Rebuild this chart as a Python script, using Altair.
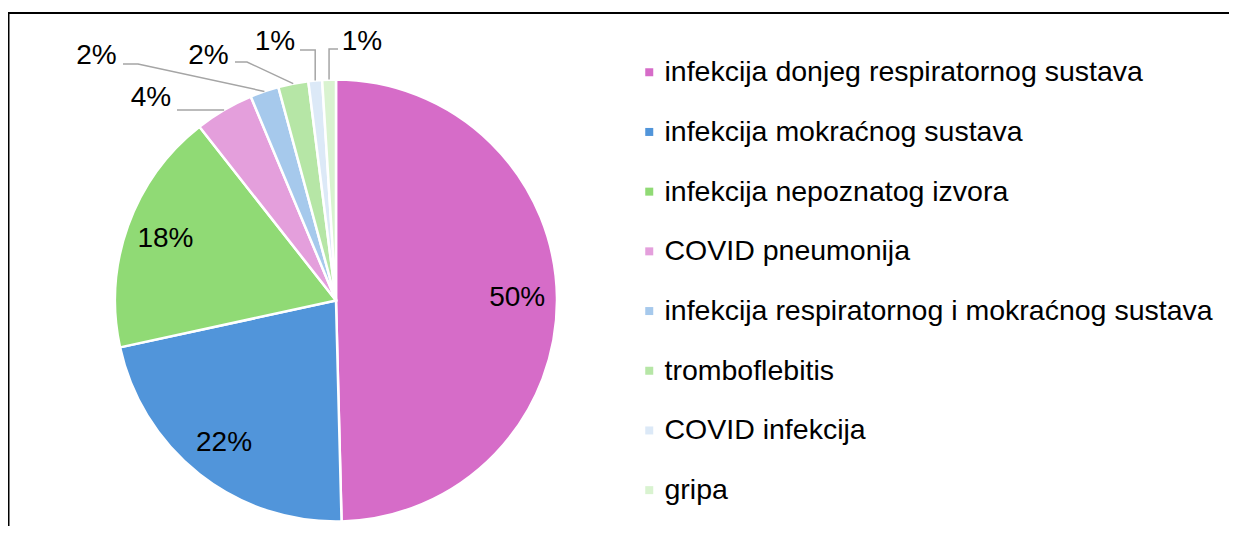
import math
import altair as alt
import pandas as pd

# ---- data ----
categories = [
    "infekcija donjeg respiratornog sustava",
    "infekcija mokraćnog sustava",
    "infekcija nepoznatog izvora",
    "COVID pneumonija",
    "infekcija respiratornog i mokraćnog sustava",
    "tromboflebitis",
    "COVID infekcija",
    "gripa",
]
values = [49.6, 22.0, 17.8, 4.3, 2.1, 2.2, 1.0, 1.0]
colors = ["#D66CC8", "#5195DA", "#90DA75", "#E49FDC",
          "#A6C9EC", "#B6E6A6", "#DCE9F7", "#D9F3D0"]

# ---- layout (pixels) ----
W, H = 1221, 518           # chart size
CX, CY = 328, 292.5        # pie centre inside chart
R = 221                    # pie radius
FONT = "Liberation Sans"
FS = 28
LFS = 28.5

def u_of(px):   # page x -> pie units
    return (px - 8 - CX) / R

def v_of(py):   # page y -> pie units
    return (CY - (py - 8)) / R

xdom = [-CX / R, (W - CX) / R]
ydom = [(CY - H) / R, CY / R]
xs = alt.Scale(domain=xdom, nice=False, zero=False)
ys = alt.Scale(domain=ydom, nice=False, zero=False)

# geometry derived from the values
total = sum(values)
rows, cum = [], 0.0
for i, (c, v) in enumerate(zip(categories, values)):
    mid = (cum + v / 2) / total * 2 * math.pi
    cum += v
    rows.append(dict(cat=c, val=v, idx=i, pct=f"{round(v / total * 100)}%",
                     sx=math.sin(mid), cy=math.cos(mid)))
df = pd.DataFrame(rows)

# inside labels (three biggest slices)
inside = df[df.idx < 3].copy()
inside["u"] = inside.sx * 0.82
inside["v"] = inside.cy * 0.82

# outside labels: text centre / line start / elbow in page pixels
outer_text = {3: (151, 97.5), 4: (96.5, 56), 5: (208.5, 56), 6: (275, 42), 7: (362, 42)}
outer_start = {3: (177, None), 4: (123, 64), 5: (235, 62), 6: (300, 50), 7: (338, 49)}
outer_elbow = {3: None, 4: (138, 64), 5: (247, 62), 6: (None, 50), 7: (None, 49)}

otext, olines = [], []
for i in range(3, 8):
    r = df.iloc[i]
    ex, ey = r.sx * 1.0, r.cy * 1.0
    tx, ty = outer_text[i]
    otext.append(dict(u=u_of(tx), v=v_of(ty), pct=r.pct))
    s = outer_start[i]
    su = u_of(s[0])
    sv = v_of(s[1]) if s[1] is not None else ey
    pts = [(su, sv)]
    e = outer_elbow[i]
    if e is not None:
        eu = u_of(e[0]) if e[0] is not None else ex
        ev = v_of(e[1])
        pts.append((eu, ev))
    pts.append((ex, ey))
    for k, (pu, pv) in enumerate(pts):
        olines.append(dict(g=i, k=k, u=pu, v=pv))
otext = pd.DataFrame(otext)
olines = pd.DataFrame(olines)

color = alt.Color(
    "cat:N",
    scale=alt.Scale(domain=categories, range=colors),
    sort=categories,
    legend=alt.Legend(
        orient="none", legendX=627, legendY=50, title=None,
        symbolType="square", symbolSize=64, symbolStrokeWidth=0,
        labelFontSize=LFS, labelFont=FONT, labelColor="#000000",
        rowPadding=30.7, labelOffset=1, padding=0, labelLimit=800,
    ),
)

arcs = alt.Chart(df).mark_arc(outerRadius=R, stroke="white", strokeWidth=2.5).encode(
    theta=alt.Theta("val:Q", stack=True),
    order=alt.Order("idx:Q"),
    color=color,
    x=alt.datum(0, scale=xs, axis=None),
    y=alt.datum(0, scale=ys, axis=None),
)

in_text = alt.Chart(inside).mark_text(font=FONT, fontSize=FS, color="#000000").encode(
    x=alt.X("u:Q", scale=xs, axis=None),
    y=alt.Y("v:Q", scale=ys, axis=None),
    text="pct:N",
)

lines = alt.Chart(olines).mark_line(color="#A5A5A5", strokeWidth=1.5).encode(
    x=alt.X("u:Q", scale=xs, axis=None),
    y=alt.Y("v:Q", scale=ys, axis=None),
    detail="g:N",
    order="k:Q",
)

out_text = alt.Chart(otext).mark_text(font=FONT, fontSize=FS, color="#000000").encode(
    x=alt.X("u:Q", scale=xs, axis=None),
    y=alt.Y("v:Q", scale=ys, axis=None),
    text="pct:N",
)

one = pd.DataFrame({"a": [0]})
frame_top = alt.Chart(one).mark_rule(color="#000000", strokeWidth=2).encode(
    x=alt.value(0), x2=alt.value(W), y=alt.value(5))
frame_left = alt.Chart(one).mark_rule(color="#000000", strokeWidth=2).encode(
    x=alt.value(0.5), y=alt.value(4), y2=alt.value(H))

chart = alt.layer(arcs, in_text, lines, out_text, frame_top, frame_left).properties(
    width=W, height=H, padding=0,
    autosize=alt.AutoSizeParams(type="none"),
).configure_view(stroke=None)

chart.save("out.html", embed_options={"renderer": "svg", "actions": False})
